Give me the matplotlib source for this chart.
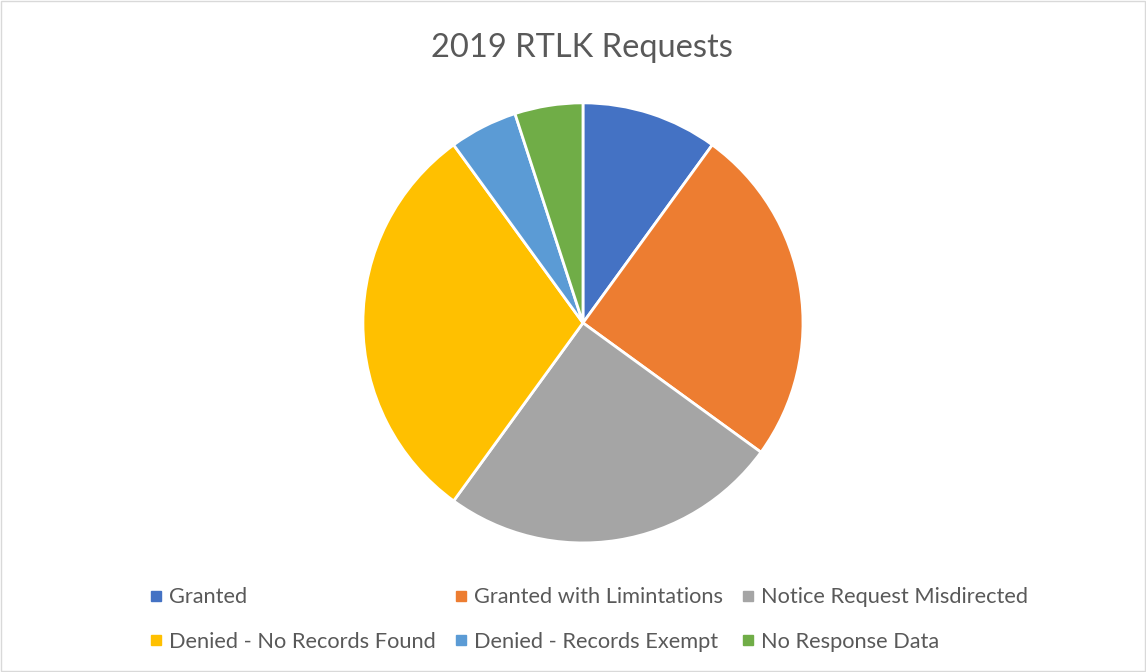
import matplotlib.pyplot as plt
from matplotlib.lines import Line2D
from matplotlib.patches import Rectangle

plt.rcParams['font.family'] = ['Lato', 'DejaVu Sans']

labels = ["Granted", "Granted with Limintations", "Notice Request Misdirected",
          "Denied - No Records Found", "Denied - Records Exempt", "No Response Data"]
counts = [2, 5, 5, 6, 1, 1]
colors = ["#4472C4", "#ED7D31", "#A5A5A5", "#FFC000", "#5B9BD5", "#70AD47"]

fig = plt.figure(figsize=(11.46, 6.72), dpi=100)
fig.patches.append(Rectangle((0.001, 0.001), 0.998, 0.998, transform=fig.transFigure,
                             fill=False, edgecolor="#d9d9d9", linewidth=1))

ax = fig.add_axes([0.3167, 0.192, 0.384, 0.655])
ax.pie(counts, colors=colors, startangle=90, counterclock=False,
       wedgeprops=dict(edgecolor="white", linewidth=2))
ax.set_xlim(-1, 1)
ax.set_ylim(-1, 1)
ax.set_aspect("equal")

fig.text(0.508, 0.928, "2019 RTLK Requests", ha="center", va="center",
         fontsize=23.5, color="#595959")

handles = [Line2D([], [], marker="s", linestyle="none", markersize=6.5,
                  markerfacecolor=c, markeredgecolor=c) for c in colors]
# reorder so rows read left-to-right
order = [0, 3, 1, 4, 2, 5]
fig.legend([handles[i] for i in order], [labels[i] for i in order],
           ncol=3, loc="center", bbox_to_anchor=(0.514, 0.078), frameon=False,
           fontsize=15.7, labelcolor="#595959", handlelength=0.5,
           handletextpad=0.35, columnspacing=0.9, labelspacing=1.12)

fig.savefig("out.png", dpi=100)
